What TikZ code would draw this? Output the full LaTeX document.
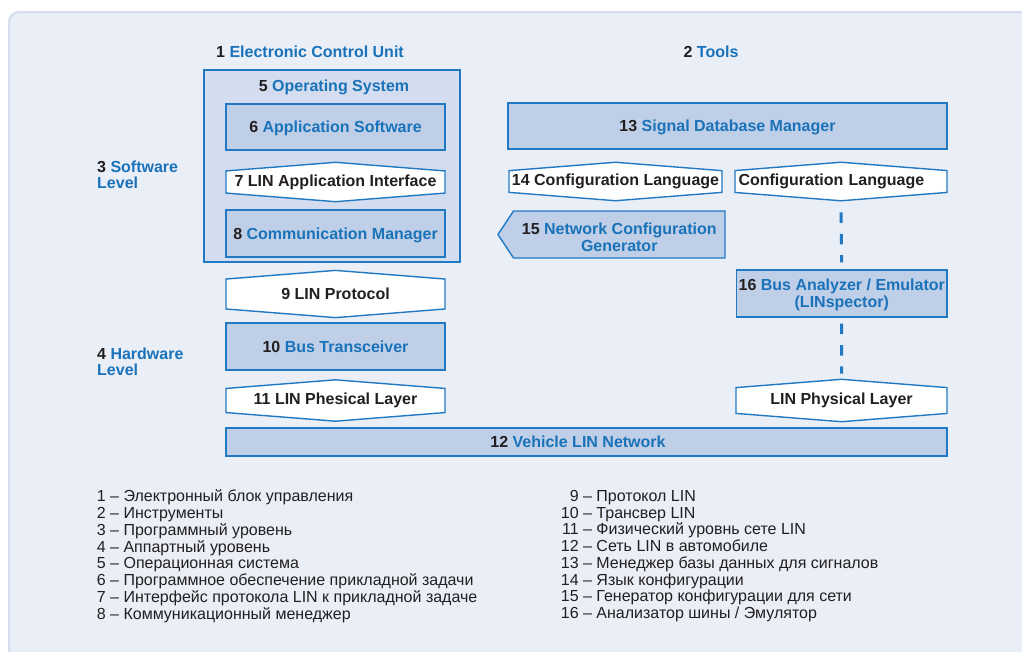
\documentclass[tikz,border=0pt]{standalone}
\usepackage{fontspec}
\setmainfont{Liberation Sans}
\usepackage{xcolor}
\usetikzlibrary{shapes.symbols,positioning}

\definecolor{panelbg}{HTML}{E9EEF7}
\definecolor{panelline}{HTML}{D5DEEE}
\definecolor{osfill}{HTML}{D3DDEF}
\definecolor{boxfill}{HTML}{BFCFE8}
\definecolor{framecol}{HTML}{2279C3}
\definecolor{namecol}{HTML}{1A72B9}
\definecolor{numcol}{HTML}{231F20}

\newcommand{\nr}[1]{\textcolor{numcol}{#1}}

\begin{document}
\begin{tikzpicture}[
        x=1pt, y=-1pt,
        % Styles
        title/.style={
            font=\bfseries\fontsize{16}{16}\selectfont,
            text=namecol,
            inner sep=0pt
        },
        levellabel/.style={
            title,
            align=left,
            anchor=west
        },
        unitbox/.style={
            rectangle,
            draw=framecol,
            fill=boxfill,
            line width=1.4pt,
            minimum width=219pt,
            minimum height=47pt,
            inner sep=0pt,
            text height=11.6pt,
            text depth=0pt,
            align=center,
            text=namecol,
            font=\bfseries\fontsize{16}{17}\selectfont
        },
        iface/.style={
            signal,
            signal to=north and south,
            signal pointer angle=171,
            draw=framecol,
            fill=white,
            line width=1.4pt,
            minimum width=219pt,
            minimum height=38pt,
            inner sep=0pt,
            text=numcol,
            font=\bfseries\fontsize{16}{17}\selectfont
        },
        link/.style={
            draw=framecol,
            line width=3pt,
            dash pattern=on 10.5pt off 10.8pt
        },
        legend/.style={
            anchor=north west,
            inner sep=0pt,
            text=numcol,
            font=\fontsize{16}{16.7}\selectfont
        }
    ]

    \useasboundingbox (0,0) rectangle (1022,651);

    % Panel
    \draw[fill=panelbg, draw=panelline, line width=2pt, rounded corners=10pt]
        (9,12) rectangle (1040,670);

    % Electronic Control Unit
    \node[title] (ecu) at (310,52) {\nr{1} Electronic Control Unit};
    \node[unitbox, fill=osfill, minimum width=256pt, minimum height=192pt] (os) at (332,166) {};
    \node[title] (oslab) at (334,87) {\nr{5} Operating System};
    \node[unitbox, minimum height=46pt] (app) at (335.5,127) {\nr{6} Application Software};
    \node[iface] (api) at (335.5,182) {7 LIN Application Interface};
    \node[unitbox] (comm) at (335.5,233.5) {\nr{8} Communication Manager};

    % Hardware stack
    \node[iface, minimum height=38.5pt] (proto) at (335.5,294) {9 LIN Protocol};
    \node[unitbox] (trans) at (335.5,346.5) {\nr{10} Bus Transceiver};
    \node[iface, minimum height=37pt] (phys) at (335.5,400.5) {11 LIN Phesical Layer};
    \node[unitbox, minimum width=721pt, minimum height=28pt] (net) at (586.5,442)
        {\nr{12} Vehicle LIN Network\hspace*{17pt}};

    % Levels
    \node[levellabel] (swlevel) at (97,175) {\nr{3} Software\\Level};
    \node[levellabel] (hwlevel) at (97,362) {\nr{4} Hardware\\Level};

    % Tools
    \node[title] (tools) at (711,52) {\nr{2} Tools};
    \node[unitbox, minimum width=439pt, minimum height=46pt] (sdm) at (727.5,126) {\nr{13} Signal Database Manager};
    \node[iface, minimum width=213pt] (cfg) at (615.5,181.5) {14 Configuration Language};
    \node[iface, minimum width=212pt, text width=205pt, align=left] (cfgb) at (841,181.5) {Configuration Language};
    \node[unitbox, signal, signal to=west, signal pointer angle=113, minimum width=227pt,
          text height=34.6pt] (gen) at (619.25,234.5) {\nr{15} Network Configuration\\Generator};
    \node[unitbox, minimum width=210.5pt, text height=28.6pt] (ana) at (841.75,293.5)
        {\nr{16} Bus Analyzer / Emulator\\(LINspector)};
    \node[iface, minimum width=211pt, minimum height=37pt] (physb) at (841.5,400.5) {LIN Physical Layer};

    % Dashed links of the analyzer
    \draw[link, shorten <=11pt, shorten >=7pt] (cfgb.south) -- (ana.north);
    \draw[link, shorten <=6pt, shorten >=5pt] (ana.south) -- (physb.north);

    % Key
    \node[legend] (keyleft) at (96.7,489.5) {%
        \begin{tabular}{@{}r@{\ –\ }l@{}}
            1 & Электронный блок управления\\
            2 & Инструменты\\
            3 & Программный уровень\\
            4 & Аппартный уровень\\
            5 & Операционная система\\
            6 & Программное обеспечение прикладной задачи\\
            7 & Интерфейс протокола LIN к прикладной задаче\\
            8 & Коммуникационный менеджер
        \end{tabular}};
    \node[legend] (keyright) at (560.7,489.5) {%
        \begin{tabular}{@{}r@{\ –\ }l@{}}
            9 & Протокол LIN\\
            10 & Трансвер LIN\\
            11 & Физический уровнь сете LIN\\
            12 & Сеть LIN в автомобиле\\
            13 & Менеджер базы данных для сигналов\\
            14 & Язык конфигурации\\
            15 & Генератор конфигурации для сети\\
            16 & Анализатор шины / Эмулятор
        \end{tabular}};

\end{tikzpicture}
\end{document}
